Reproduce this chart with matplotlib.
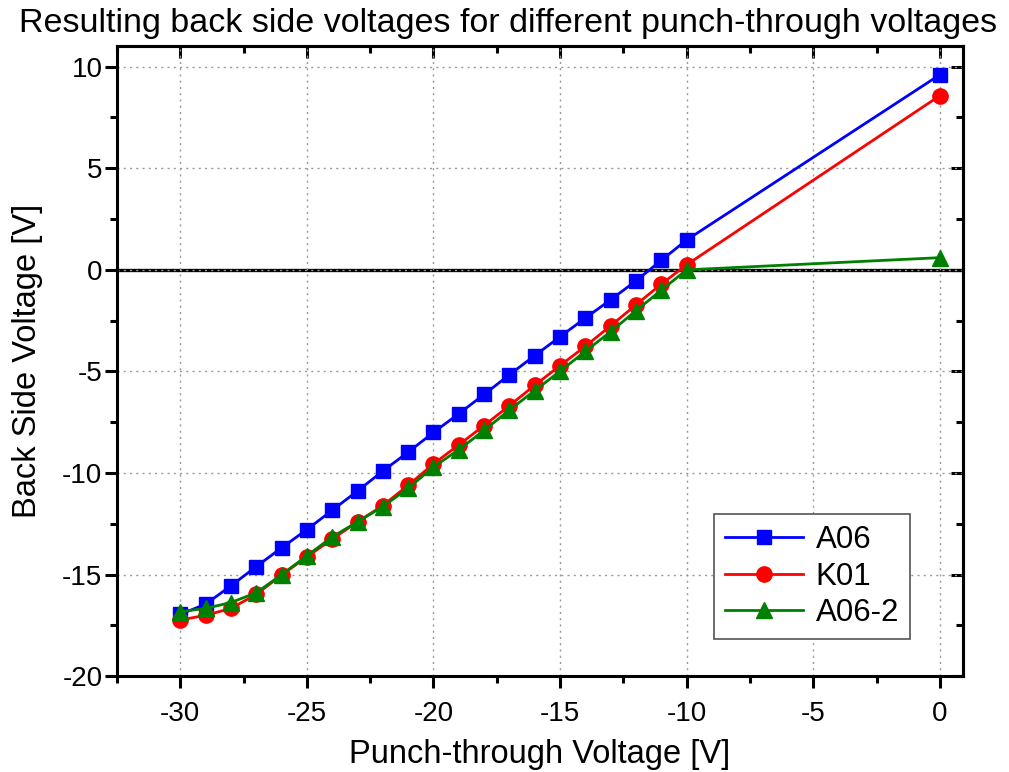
import matplotlib
matplotlib.use("Agg")
import matplotlib.pyplot as plt
from matplotlib.ticker import MultipleLocator

plt.rcParams['font.family'] = ['Liberation Sans', 'DejaVu Sans']
plt.rcParams['axes.unicode_minus'] = False

# punch-through voltage [V]
pt_voltage = [-30, -29, -28, -27, -26, -25, -24, -23, -22, -21, -20,
              -19, -18, -17, -16, -15, -14, -13, -12, -11, -10, 0]

# back side voltage [V]
a06 = [-16.95, -16.45, -15.55, -14.6, -13.68, -12.78, -11.83, -10.88, -9.9, -8.97, -8.0,
       -7.08, -6.13, -5.16, -4.22, -3.29, -2.37, -1.47, -0.54, 0.47, 1.47, 9.6]
k01 = [-17.23, -17.0, -16.66, -15.97, -15.02, -14.12, -13.25, -12.4, -11.6, -10.6, -9.55,
       -8.61, -7.66, -6.68, -5.68, -4.71, -3.76, -2.75, -1.72, -0.7, 0.25, 8.57]
a06_2 = [-16.82, -16.66, -16.37, -15.89, -15.0, -14.07, -13.14, -12.4, -11.65, -10.75, -9.7,
         -8.85, -7.9, -6.9, -5.94, -4.99, -4.01, -3.04, -2.01, -1.0, 0.0, 0.6]

fig = plt.figure(figsize=(10.09, 7.72), dpi=100)
ax = fig.add_axes([0.116, 0.124, 0.838, 0.816])

ax.axhline(0, color='black', lw=2.4, zorder=1)
ax.plot(pt_voltage, a06, color='#0000ff', lw=2, marker='s', ms=10, label='A06', zorder=3)
ax.plot(pt_voltage, k01, color='#ff0000', lw=2, marker='o', ms=11, label='K01', zorder=3)
ax.plot(pt_voltage, a06_2, color='#008000', lw=2, marker='^', ms=11, label='A06-2', zorder=4)

ax.set_xlim(-32.5, 0.9)
ax.set_ylim(-20, 11)
ax.xaxis.set_major_locator(MultipleLocator(5))
ax.xaxis.set_minor_locator(MultipleLocator(2.5))
ax.yaxis.set_major_locator(MultipleLocator(5))
ax.yaxis.set_minor_locator(MultipleLocator(2.5))
ax.grid(True, which='major', color='#999999', ls=(0, (1.5, 3)), lw=1)

for sp in ax.spines.values():
	sp.set_linewidth(2.2)
ax.tick_params(which='major', direction='out', length=8.5, width=2.2, labelsize=20)
ax.tick_params(which='minor', direction='out', length=5, width=2.2)
ax.tick_params(axis='x', which='major', pad=9)
ax.tick_params(axis='y', which='major', pad=2)

# top and right ticks point inwards
top = ax.secondary_xaxis('top')
top.xaxis.set_major_locator(MultipleLocator(5))
top.xaxis.set_minor_locator(MultipleLocator(2.5))
top.tick_params(which='major', direction='in', length=8.5, width=2.2, labeltop=False)
top.tick_params(which='minor', direction='in', length=5, width=2.2)
right = ax.secondary_yaxis('right')
right.yaxis.set_major_locator(MultipleLocator(5))
right.yaxis.set_minor_locator(MultipleLocator(2.5))
right.tick_params(which='major', direction='in', length=8.5, width=2.2, labelright=False)
right.tick_params(which='minor', direction='in', length=5, width=2.2)
for sec in (top, right):
	for sp in sec.spines.values():
		sp.set_linewidth(2.2)

ax.set_xlabel('Punch-through Voltage [V]', fontsize=23.5)
ax.set_ylabel('Back Side Voltage [V]', fontsize=23.5)
ax.xaxis.set_label_coords(0.5, -0.099)
ax.yaxis.set_label_coords(-0.087, 0.5)
fig.text(0.504, 0.989, 'Resulting back side voltages for different punch-through voltages',
		 fontsize=24.5, ha='center', va='top')

leg = ax.legend(loc='upper left', bbox_to_anchor=(0.706, 0.257), borderaxespad=0,
				fontsize=22.5, fancybox=False, edgecolor='#555555', framealpha=1,
				handlelength=2.5, handletextpad=0.4, labelspacing=0.2, borderpad=0.35)
leg.get_frame().set_linewidth(1.2)

fig.savefig('out.png', dpi=100)
